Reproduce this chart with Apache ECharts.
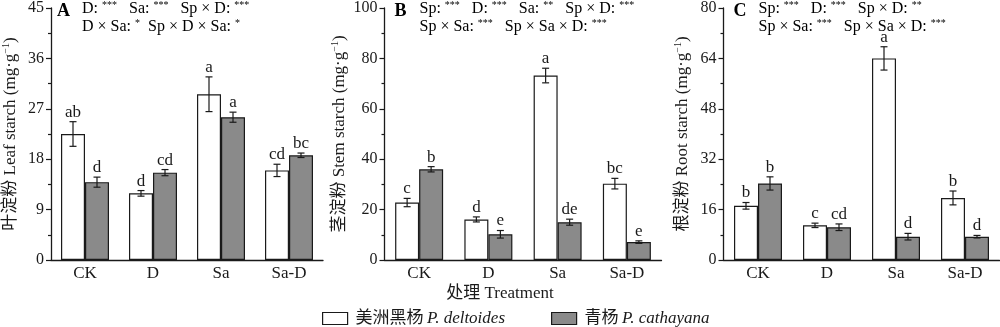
<!DOCTYPE html>
<html><head><meta charset="utf-8">
<script src="https://cdn.jsdelivr.net/npm/echarts@6/dist/echarts.min.js"></script>
<style>html,body{margin:0;padding:0;background:#fff}#c{width:1000px;height:327px}</style>
</head><body><div id="c"></div>
<script>
const categories = ['CK', 'D', 'Sa', 'Sa-D'];

const leafDel = [22.5, 11.9, 29.6, 16.0];
const leafDelErr = [2.2, 0.5, 3.1, 1.1];
const leafCat = [13.9, 15.6, 25.5, 18.7];
const leafCatErr = [0.9, 0.55, 0.9, 0.4];
const leafDelLetters = ['ab', 'd', 'a', 'cd'];
const leafCatLetters = ['d', 'cd', 'a', 'bc'];

const stemDel = [22.8, 16.1, 73.2, 30.3];
const stemDelErr = [1.65, 1.0, 2.9, 2.1];
const stemCat = [36.0, 10.2, 15.0, 7.1];
const stemCatErr = [1.05, 1.5, 1.2, 0.5];
const stemDelLetters = ['c', 'd', 'a', 'bc'];
const stemCatLetters = ['b', 'e', 'de', 'e'];

const rootDel = [17.2, 11.0, 64.0, 19.7];
const rootDelErr = [1.05, 0.7, 3.7, 2.2];
const rootCat = [24.3, 10.4, 7.4, 7.4];
const rootCatErr = [2.1, 1.05, 1.05, 0.4];
const rootDelLetters = ['b', 'c', 'a', 'b'];
const rootCatLetters = ['b', 'cd', 'd', 'd'];

const yMax = [45, 100, 80];
const yInterval = [9, 20, 16];
const yTitles = ['叶淀粉 Leaf starch', '茎淀粉 Stem starch', '根淀粉 Root starch'];
const panelLabels = ['A', 'B', 'C'];
const sigLine1 = [
  [['D: ', '***'], ['   Sa: ', '***'], ['   Sp × D: ', '***']],
  [['Sp: ', '***'], ['   D: ', '***'], ['   Sa: ', '**'], ['   Sp × D: ', '***']],
  [['Sp: ', '***'], ['   D: ', '***'], ['   Sp × D: ', '**']]
];
const sigLine2 = [
  [['D × Sa: ', '*'], ['  Sp × D × Sa: ', '*']],
  [['Sp × Sa: ', '***'], ['   Sp × Sa × D: ', '***']],
  [['Sp × Sa: ', '***'], ['   Sp × Sa × D: ', '***']]
];
const seriesNames = ['美洲黑杨 P. deltoides', '青杨 P. cathayana'];

const panels = [
  {del: leafDel, delErr: leafDelErr, cat: leafCat, catErr: leafCatErr, dl: leafDelLetters, cl: leafCatLetters},
  {del: stemDel, delErr: stemDelErr, cat: stemCat, catErr: stemCatErr, dl: stemDelLetters, cl: stemCatLetters},
  {del: rootDel, delErr: rootDelErr, cat: rootCat, catErr: rootCatErr, dl: rootDelLetters, cl: rootCatLetters}
];

const FONT = "'Liberation Serif', 'Noto Sans CJK SC', serif";
const INK = '#1a1a1a';
const GRAY = '#8a8a8a';
const BARW = 24;
const gridLefts = [47, 384.5, 723.5];
const gridWidths = [276, 277, 276];

const grids = [], xAxes = [], yAxes = [], series = [], graphics = [];

panels.forEach((p, i) => {
  grids.push({left: gridLefts[i], width: gridWidths[i], top: 7, height: 253});
  xAxes.push({
    type: 'category', gridIndex: i, data: categories,
    axisLine: {lineStyle: {color: INK, width: 1.3}},
    axisTick: {show: false},
    axisLabel: {color: INK, fontFamily: FONT, fontSize: 17, margin: 5}
  });
  yAxes.push({
    type: 'value', gridIndex: i, min: 0, max: yMax[i], interval: yInterval[i],
    splitLine: {show: false},
    axisLine: {show: true, lineStyle: {color: INK, width: 1.3}},
    axisTick: {show: true, length: 5, lineStyle: {color: INK, width: 1.2}},
    minorTick: {show: true, splitNumber: 2, length: 3, lineStyle: {color: INK, width: 1.2}},
    axisLabel: {color: INK, fontFamily: FONT, fontSize: 16, margin: 7},
    name: yTitles[i] + ' (mg·g{sup|−1})',
    nameLocation: 'middle', nameRotate: 90, nameGap: i === 1 ? 35 : 31,
    nameTextStyle: {color: INK, fontFamily: FONT, fontSize: 17,
      rich: {sup: {fontSize: 10, fontFamily: FONT, color: INK, padding: [0, 0, 9, 0]}}}
  });
  series.push({
    name: seriesNames[0], type: 'bar', xAxisIndex: i, yAxisIndex: i, data: p.del,
    barWidth: BARW, barGap: '0%',
    itemStyle: {color: '#ffffff', borderColor: INK, borderWidth: 1.2}
  });
  series.push({
    name: seriesNames[1], type: 'bar', xAxisIndex: i, yAxisIndex: i, data: p.cat,
    barWidth: BARW, barGap: '0%',
    itemStyle: {color: GRAY, borderColor: INK, borderWidth: 1.2}
  });
  const errData = [];
  categories.forEach((c, k) => {
    errData.push([k, p.del[k], p.delErr[k], 0, p.dl[k]]);
    errData.push([k, p.cat[k], p.catErr[k], 1, p.cl[k]]);
  });
  series.push({
    type: 'custom', xAxisIndex: i, yAxisIndex: i, data: errData, z: 10,
    renderItem: function (params, api) {
      const k = api.value(0), v = api.value(1), e = api.value(2), s = api.value(3);
      const letter = errData[params.dataIndex][4];
      const c = api.coord([k, v]);
      const x = c[0] + (s === 0 ? -BARW / 2 : BARW / 2);
      const hi = api.coord([k, v + e])[1];
      const lo = api.coord([k, v - e])[1];
      const st = {stroke: INK, lineWidth: 1.2};
      const cap = 3.5;
      return {type: 'group', children: [
        {type: 'line', shape: {x1: x, y1: hi, x2: x, y2: lo}, style: st},
        {type: 'line', shape: {x1: x - cap, y1: hi, x2: x + cap, y2: hi}, style: st},
        {type: 'line', shape: {x1: x - cap, y1: lo, x2: x + cap, y2: lo}, style: st},
        {type: 'text', x: x, y: hi - 1, style: {text: letter, fill: INK, font: '17px ' + FONT, align: 'center', verticalAlign: 'bottom'}}
      ]};
    }
  });

  const richStyles = {
    t: {fontSize: 16, fontFamily: FONT, color: INK, lineHeight: 18},
    s: {fontSize: 10, fontFamily: FONT, color: INK, padding: [0, 0, 7, 0]},
    b: {fontSize: 18, fontFamily: FONT, fontWeight: 'bold', color: INK}
  };
  const mk = parts => parts.map(pp => '{t|' + pp[0] + '}{s|' + pp[1] + '}').join('');
  graphics.push({type: 'text', left: gridLefts[i] + 10, top: 2,
    style: {text: '{b|' + panelLabels[i] + '}', rich: richStyles}});
  graphics.push({type: 'text', left: gridLefts[i] + 35, top: 0,
    style: {text: mk(sigLine1[i]), rich: richStyles}});
  graphics.push({type: 'text', left: gridLefts[i] + 35, top: 18,
    style: {text: mk(sigLine2[i]), rich: richStyles}});
});

graphics.push({type: 'text', left: 'center', top: 285,
  style: {text: '处理 Treatment', font: '17px ' + FONT, fill: INK}});

const option = {
  animation: false,
  backgroundColor: '#ffffff',
  grid: grids, xAxis: xAxes, yAxis: yAxes, series: series,
  graphic: graphics,
  legend: {
    data: seriesNames, left: 317, top: 305, itemWidth: 25, itemHeight: 12, itemGap: 46,
    icon: 'rect',
    itemStyle: {borderColor: INK, borderWidth: 1.2},
    formatter: function (n) {
      const sp = n.indexOf(' ');
      return '{c|' + n.slice(0, sp) + '} {i|' + n.slice(sp + 1) + '}';
    },
    textStyle: {color: INK, padding: [0, 0, 0, 3], rich: {
      c: {fontFamily: FONT, fontSize: 17, color: INK},
      i: {fontFamily: FONT, fontSize: 17, fontStyle: 'italic', color: INK}
    }}
  }
};
const chart = echarts.init(document.getElementById('c'));
chart.setOption(option);
</script>
</body></html>
